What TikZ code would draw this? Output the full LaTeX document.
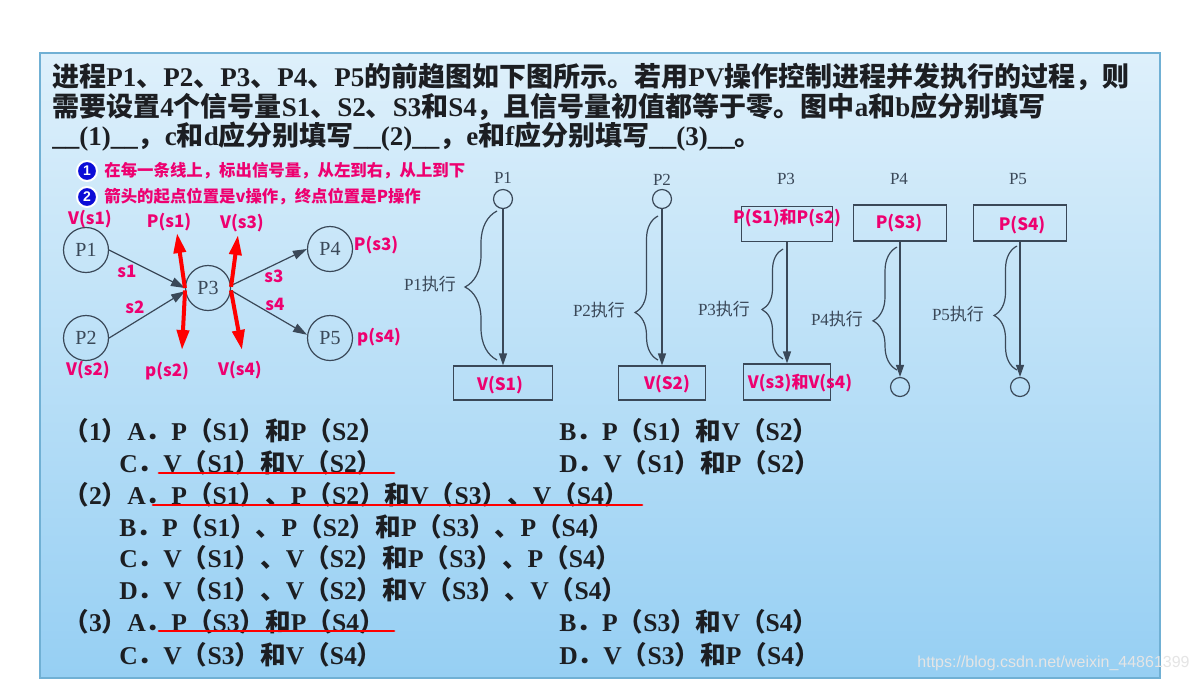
\documentclass[tikz,border=0pt]{standalone}
\usepackage{fontspec}
\setmainfont{Liberation Serif}
\newfontfamily\cjkfont{Noto Sans CJK SC}
\newfontfamily\hei{Noto Sans CJK SC}
\newfontfamily\urlfont{Liberation Sans}
\usetikzlibrary{arrows.meta,decorations.pathreplacing}

% Chinese characters go to the CJK font
\newXeTeXintercharclass\hanclass
\newcount\hancount
\hancount=32
\loop \XeTeXcharclass\hancount=0 \ifnum\hancount<255 \advance\hancount by 1 \repeat
\hancount="3000
\loop \XeTeXcharclass\hancount=\hanclass \ifnum\hancount<"9FFF \advance\hancount by 1 \repeat
\hancount="FF00
\loop \XeTeXcharclass\hancount=\hanclass \ifnum\hancount<"FFEF \advance\hancount by 1 \repeat
\XeTeXinterchartoks 0 \hanclass = {\begingroup\cjkfont}
\XeTeXinterchartoks 4095 \hanclass = {\begingroup\cjkfont}
\XeTeXinterchartoks \hanclass 0 = {\endgroup}
\XeTeXinterchartoks \hanclass 4095 = {\endgroup}
\XeTeXinterchartokenstate=1

\definecolor{ink}{RGB}{28,30,34}
\definecolor{line}{RGB}{58,72,88}
\definecolor{pinkred}{RGB}{238,0,112}
\definecolor{boxtop}{RGB}{222,240,251}
\definecolor{boxbot}{RGB}{150,207,243}
\definecolor{boxrim}{RGB}{112,176,212}
\definecolor{bluedot}{RGB}{12,12,215}

\tikzset{
  qline/.style={anchor=west,inner sep=0pt,text=ink,font=\fontsize{13.5}{15}\selectfont\bfseries},
  opt/.style={anchor=west,inner sep=0pt,text=ink,font=\fontsize{12.8}{14}\selectfont\bfseries},
  note/.style={anchor=west,inner sep=0pt,text=pinkred,font=\hei\fontsize{8.2}{9}\selectfont\bfseries},
  numdot/.style={circle,fill=bluedot,draw=white,line width=1pt,minimum size=10pt,inner sep=0pt,
    text=white,font=\urlfont\fontsize{7}{7}\selectfont\bfseries},
  redlbl/.style={inner sep=0pt,text=pinkred,font=\hei\fontsize{8.5}{9}\selectfont\bfseries},
  proc/.style={circle,draw=line,line width=0.6pt,minimum size=22.5pt,inner sep=0pt,
    text=line,font=\fontsize{10}{10}\selectfont},
  dot/.style={circle,draw=line,line width=0.6pt,minimum size=9.5pt,inner sep=0pt},
  stepbox/.style={draw=line,line width=0.6pt,inner sep=0pt},
  ttl/.style={inner sep=0pt,text=line,font=\fontsize{8.5}{9}\selectfont},
  exec/.style={inner sep=0pt,text=line,font=\fontsize{8.5}{9}\selectfont},
  arr/.style={draw=line,line width=0.6pt,-{Triangle[length=7pt,width=4.5pt]}},
  varr/.style={draw=line,line width=0.6pt,-{Triangle[length=6pt,width=4pt]}},
  redarr/.style={draw=red,line width=2pt,-{Triangle[length=10pt,width=6pt]}},
  brc/.style={draw=line,line width=0.6pt,decorate},
  uline/.style={draw=red,line width=1.4pt,line cap=round}
}

\begin{document}
\begin{tikzpicture}[x=0.5pt,y=-0.5pt]
\fill[white] (0,0) rectangle (1197,682);
\useasboundingbox (0,0) rectangle (1197,682);
\shade[top color=boxtop,bottom color=boxbot] (40,53) rectangle (1160,678);
\draw[boxrim,line width=0.8pt] (40,53) rectangle (1160,678);

% question
\node[qline] (q1) at (52,77) {进程P1、P2、P3、P4、P5的前趋图如下图所示。若用PV操作控制进程并发执行的过程，则};
\node[qline] (q2) at (52,107) {需要设置4个信号量S1、S2、S3和S4，且信号量初值都等于零。图中a和b应分别填写};
\node[qline] (q3) at (52,137) {\_\_(1)\_\_，c和d应分别填写\_\_(2)\_\_，e和f应分别填写\_\_(3)\_\_。};

% hints
\node[numdot] (n1) at (87,171) {1};
\node[note] (t1) at (104,171) {在每一条线上，标出信号量，从左到右，从上到下};
\node[numdot] (n2) at (87,197) {2};
\node[note] (t2) at (104,197) {箭头的起点位置是v操作，终点位置是P操作};

% precedence graph
\node[proc] (P1) at (86,250) {P1};
\node[proc] (P2) at (86,338) {P2};
\node[proc] (P3) at (208,288) {P3};
\node[proc] (P4) at (330,249) {P4};
\node[proc] (P5) at (330,338) {P5};
\draw[arr] (P1.east) -- (P3.west);
\draw[arr] (P2.east) -- (P3.188);
\draw[arr] (P3.6) -- (P4.west);
\draw[arr] (P3.354) -- (P5.172);

\coordinate (ps1) at (177,233);
\coordinate (ps2) at (182,350);
\coordinate (vs3) at (238,235);
\coordinate (vs4) at (242,350);
\draw[redarr] (P3.west) -- (ps1);
\draw[redarr] (P3.186) -- (ps2);
\draw[redarr] (P3.3) -- (vs3);
\draw[redarr] (P3.354) -- (vs4);

\node[redlbl] (lv1) at (90,219) {V(s1)};
\node[redlbl] (lv2) at (88,370) {V(s2)};
\node[redlbl] (lp1) at (169,222) {P(s1)};
\node[redlbl] (lp2) at (167,371) {p(s2)};
\node[redlbl] (lv3) at (242,223) {V(s3)};
\node[redlbl] (lv4) at (240,370) {V(s4)};
\node[redlbl] (lp3) at (376,245) {P(s3)};
\node[redlbl] (lp4) at (379,337) {p(s4)};
\node[redlbl] (ls1) at (127,271) {s1};
\node[redlbl] (ls2) at (135,307) {s2};
\node[redlbl] (ls3) at (274,276) {s3};
\node[redlbl] (ls4) at (275,304) {s4};

% process bodies
\node[ttl] (h1) at (503,178) {P1};
\node[ttl] (h2) at (662,180) {P2};
\node[ttl] (h3) at (786,179) {P3};
\node[ttl] (h4) at (899,179) {P4};
\node[ttl] (h5) at (1018,179) {P5};

\node[dot] (s1) at (503,199) {};
\node[stepbox,minimum width=49.5pt,minimum height=17pt] (ba) at (503,383) {};
\draw[varr] (s1) -- (ba);
\node[dot] (s2) at (662,199) {};
\node[stepbox,minimum width=43.5pt,minimum height=17pt] (bb) at (662,383) {};
\draw[varr] (s2) -- (bb);
\node[stepbox,minimum width=45.5pt,minimum height=17.5pt] (bc) at (787,224) {};
\node[stepbox,minimum width=43.5pt,minimum height=18pt] (bd) at (787,382) {};
\draw[varr] (bc) -- (bd);
\node[stepbox,minimum width=46.5pt,minimum height=18pt] (be) at (900,223) {};
\node[dot] (e1) at (900,387) {};
\draw[varr] (be) -- (e1);
\node[stepbox,minimum width=46.5pt,minimum height=18pt] (bf) at (1020,223) {};
\node[dot] (f1) at (1020,387) {};
\draw[varr] (bf) -- (f1);

\draw[brc,decoration={brace,amplitude=16pt,aspect=0.49}] (497,360) -- (497,211);
\draw[brc,decoration={brace,amplitude=11.5pt,aspect=0.33}] (658,360) -- (658,216);
\draw[brc,decoration={brace,amplitude=10.5pt,aspect=0.45}] (783,359) -- (783,249);
\draw[brc,decoration={brace,amplitude=12pt,aspect=0.4}] (897,370) -- (897,247);
\draw[brc,decoration={brace,amplitude=11.5pt,aspect=0.44}] (1017,370) -- (1017,246);
\node[exec] (x1) at (430,284) {P1执行};
\node[exec] (x2) at (599,310) {P2执行};
\node[exec] (x3) at (724,309) {P3执行};
\node[exec] (x4) at (837,319) {P4执行};
\node[exec] (x5) at (958,314) {P5执行};

\node[redlbl] (ra) at (500,385) {V(S1)};
\node[redlbl] (rb) at (667,384) {V(S2)};
\node[redlbl] (rc) at (787,218) {P(S1)和P(s2)};
\node[redlbl] (rd) at (800,383) {V(s3)和V(s4)};
\node[redlbl] (re) at (899,223) {P(S3)};
\node[redlbl] (rf) at (1022,225) {P(S4)};

% options
\node[opt] (o1a) at (63,431) {（1）A．P（S1）和P（S2）};
\node[opt] (o1b) at (559,431) {B．P（S1）和V（S2）};
\node[opt] (o1c) at (119,463) {C．V（S1）和V（S2）};
\node[opt] (o1d) at (559,463) {D．V（S1）和P（S2）};
\node[opt] (o2a) at (63,495) {（2）A．P（S1）、P（S2）和V（S3）、V（S4）};
\node[opt] (o2b) at (119,527) {B．P（S1）、P（S2）和P（S3）、P（S4）};
\node[opt] (o2c) at (119,558) {C．V（S1）、V（S2）和P（S3）、P（S4）};
\node[opt] (o2d) at (119,590) {D．V（S1）、V（S2）和V（S3）、V（S4）};
\node[opt] (o3a) at (63,622) {（3）A．P（S3）和P（S4）};
\node[opt] (o3b) at (559,622) {B．P（S3）和V（S4）};
\node[opt] (o3c) at (119,655) {C．V（S3）和V（S4）};
\node[opt] (o3d) at (559,655) {D．V（S3）和P（S4）};

\draw[uline] (159,473) -- (394,473);
\draw[uline] (153,505) -- (642,505);
\draw[uline] (159,631) -- (394,631);

\node[inner sep=0pt,anchor=east,text=white!80!gray,font=\urlfont\fontsize{8}{8}\selectfont] (wm) at (1190,663) {https://blog.csdn.net/weixin\_44861399};
\end{tikzpicture}
\end{document}
